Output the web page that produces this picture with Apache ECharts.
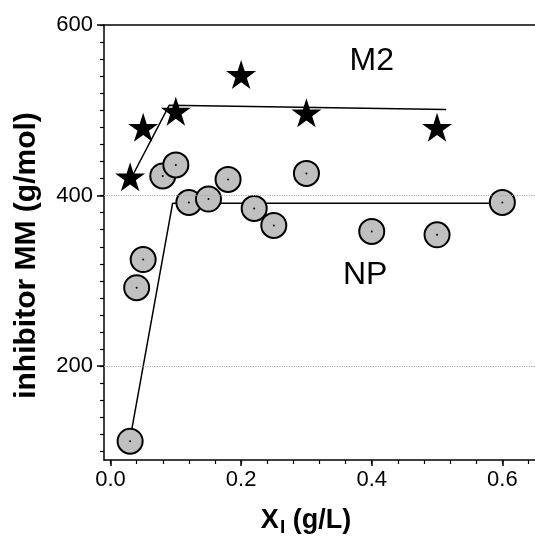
<!DOCTYPE html>
<html>
<head>
<meta charset="utf-8">
<script src="https://cdn.jsdelivr.net/npm/echarts@6/dist/echarts.min.js"></script>
<style>
  html, body { margin: 0; padding: 0; background: #fff; }
  #chart { width: 535px; height: 543px; }
</style>
</head>
<body>
<div id="chart"></div>
<script>
// 数据层
var m2Data = [[0.03, 422], [0.05, 480], [0.10, 499], [0.20, 542], [0.30, 497], [0.50, 480]];
var npData = [
  [0.03, 112], [0.04, 292], [0.05, 325], [0.08, 423], [0.10, 436], [0.12, 392],
  [0.15, 396], [0.18, 419], [0.22, 385], [0.25, 365], [0.30, 426], [0.40, 358],
  [0.50, 354], [0.60, 392]
];
// 拟合折线
var m2Fit = [[0.03, 418], [0.09, 506], [0.514, 501]];
var npFit = [[0.03, 115], [0.095, 391], [0.60, 391]];

var xMajorTicks = [0, 0.2, 0.4, 0.6];
var xMinorTicks = [0, 0.04, 0.08, 0.12, 0.16, 0.2, 0.24, 0.28, 0.32, 0.36, 0.4, 0.44, 0.48, 0.52, 0.56, 0.6, 0.64];
var yMajorTicks = [200, 400, 600];
var yMinorTicks = [100, 120, 140, 160, 180, 200, 220, 240, 260, 280, 300, 320, 340, 360, 380, 400,
  420, 440, 460, 480, 500, 520, 540, 560, 580, 600];
var gridValues = [200, 400];

var STAR = 'path://M50 0 L61.23 34.55 L97.55 34.55 L68.16 55.9 L79.39 90.45 L50 69.1 L20.61 90.45 L31.84 55.9 L2.45 34.55 L38.77 34.55 Z';
var FONT = 'Liberation Sans, Arial, sans-serif';
var X_MIN = -0.01, X_MAX = 0.65, Y_MIN = 90, Y_MAX = 600;

var myChart = echarts.init(document.getElementById('chart'));

var axisLine = { show: true, onZero: false, lineStyle: { color: '#000', width: 1.5 } };

var option = {
  animation: false,
  grid: { left: 104, right: 0, top: 25, bottom: 83 },
  xAxis: [
    {
      type: 'value', min: X_MIN, max: X_MAX, position: 'bottom',
      axisLine: axisLine,
      axisTick: { customValues: xMajorTicks, length: 6, lineStyle: { color: '#000', width: 1.5 } },
      axisLabel: {
        customValues: xMajorTicks, margin: 9, color: '#000', fontSize: 22, fontFamily: FONT,
        formatter: function (v) { return v.toFixed(1); }
      },
      splitLine: { show: false },
      name: '{a|X}{b|I}{a| (g/L)}',
      nameLocation: 'middle', nameGap: 44,
      nameTextStyle: {
        padding: [0, 27, 0, 0],
        rich: {
          a: { fontSize: 27, fontWeight: 'bold', fontFamily: FONT, color: '#000' },
          b: { fontSize: 19, fontWeight: 'bold', fontFamily: FONT, color: '#000', padding: [14, 0, 0, 1] }
        }
      }
    },
    {
      type: 'value', min: X_MIN, max: X_MAX, position: 'bottom',
      axisLine: { show: false, onZero: false },
      axisTick: { customValues: xMinorTicks, length: 4, lineStyle: { color: '#000', width: 1.2 } },
      axisLabel: { show: false },
      splitLine: { show: false }
    },
    {
      type: 'value', min: X_MIN, max: X_MAX, position: 'top',
      axisLine: axisLine,
      axisTick: { show: false },
      axisLabel: { show: false },
      splitLine: { show: false }
    }
  ],
  yAxis: [
    {
      type: 'value', min: Y_MIN, max: Y_MAX, position: 'left',
      axisLine: axisLine,
      axisTick: { customValues: yMajorTicks, length: 7, lineStyle: { color: '#000', width: 1.5 } },
      axisLabel: { customValues: yMajorTicks, margin: 11, color: '#000', fontSize: 22, fontFamily: FONT },
      splitLine: { show: false },
      name: 'inhibitor MM (g/mol)',
      nameLocation: 'middle', nameGap: 62,
      nameTextStyle: {
        fontSize: 30, fontWeight: 'bold', fontFamily: FONT, color: '#000',
        padding: [0, 26, 0, 0]
      }
    },
    {
      type: 'value', min: Y_MIN, max: Y_MAX, position: 'left',
      axisLine: { show: false, onZero: false },
      axisTick: { customValues: yMinorTicks, length: 4, lineStyle: { color: '#000', width: 1.2 } },
      axisLabel: { show: false },
      splitLine: { show: false }
    }
  ],
  series: [
    {
      name: 'NP fit', type: 'line', data: npFit, symbol: 'none', z: 2,
      lineStyle: { color: '#000', width: 1.5 },
      markLine: {
        silent: true, symbol: 'none', label: { show: false },
        lineStyle: { color: '#aaa', type: 'dotted', width: 1.2 },
        data: gridValues.map(function (v) { return { yAxis: v }; })
      }
    },
    {
      name: 'M2 fit', type: 'line', data: m2Fit, symbol: 'none', z: 2,
      lineStyle: { color: '#000', width: 1.5 }
    },
    {
      name: 'NP', type: 'scatter', data: npData, symbol: 'circle', symbolSize: 25, z: 3,
      itemStyle: { color: '#c0c0c0', borderColor: '#000', borderWidth: 2, opacity: 1 }
    },
    {
      name: 'NP center', type: 'scatter', data: npData, symbol: 'circle', symbolSize: 2, z: 4,
      silent: true, itemStyle: { color: '#000', opacity: 1 }
    },
    {
      name: 'M2', type: 'scatter', data: m2Data, symbol: STAR, symbolSize: [30, 29], z: 5,
      itemStyle: { color: '#000', opacity: 1 }
    },
    {
      name: 'labels', type: 'scatter', symbolSize: 0, silent: true, z: 6,
      itemStyle: { opacity: 1 },
      data: [
        { value: [0.40, 558], name: 'M2' },
        { value: [0.39, 307], name: 'NP' }
      ],
      label: {
        show: true, position: 'inside', formatter: '{b}',
        color: '#000', textBorderWidth: 0, fontSize: 32, fontFamily: FONT
      }
    }
  ]
};
myChart.setOption(option);
</script>
</body>
</html>
